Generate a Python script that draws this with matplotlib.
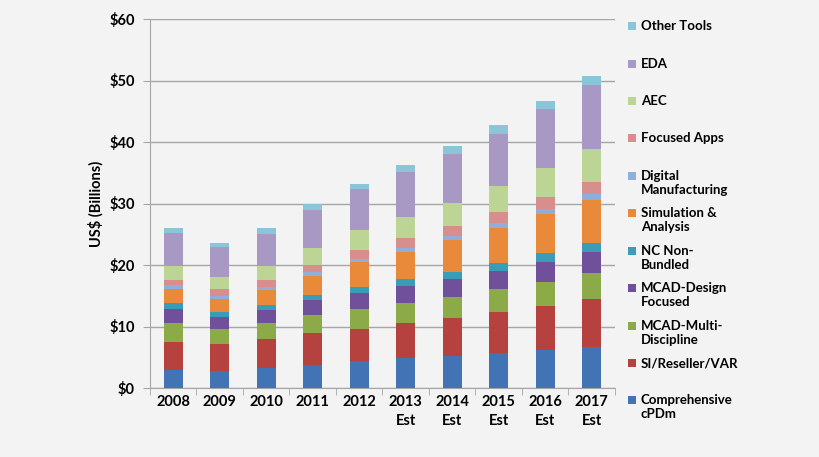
import numpy as np
import matplotlib
matplotlib.use("Agg")
import matplotlib.pyplot as plt
from matplotlib.patches import Rectangle

plt.rcParams['font.family'] = ['Lato', 'DejaVu Sans']
plt.rcParams['font.weight'] = 'bold'
plt.rcParams['axes.labelweight'] = 'bold'

years = ["2008", "2009", "2010", "2011", "2012", "2013\nEst", "2014\nEst",
         "2015\nEst", "2016\nEst", "2017\nEst"]

# segments, bottom to top (US$ billions)
cpdm = [3.0, 2.8, 3.2, 3.8, 4.4, 4.8, 5.25, 5.75, 6.2, 6.7]
si_var = [4.5, 4.3, 4.8, 5.1, 5.25, 5.7, 6.1, 6.6, 7.2, 7.7]
mcad_multi = [3.0, 2.5, 2.6, 2.9, 3.2, 3.25, 3.5, 3.75, 3.9, 4.25]
mcad_design = [2.35, 2.0, 2.05, 2.5, 2.55, 2.8, 2.8, 2.95, 3.25, 3.45]
nc_non = [0.95, 0.75, 0.8, 0.8, 0.95, 1.1, 1.25, 1.3, 1.35, 1.5]
simulation = [2.35, 2.2, 2.55, 3.1, 4.1, 4.5, 5.15, 5.7, 6.4, 7.05]
digital_mfg = [0.6, 0.45, 0.35, 0.6, 0.6, 0.55, 0.65, 0.7, 0.8, 0.85]
focused = [0.85, 1.1, 1.2, 1.25, 1.45, 1.7, 1.6, 1.8, 1.95, 2.05]
aec = [2.3, 2.0, 2.35, 2.65, 3.15, 3.4, 3.85, 4.3, 4.7, 5.25]
eda = [5.3, 4.75, 5.15, 6.2, 6.65, 7.3, 7.95, 8.5, 9.6, 10.4]
other = [0.85, 0.65, 1.0, 1.0, 0.9, 1.1, 1.2, 1.4, 1.3, 1.6]

series = [cpdm, si_var, mcad_multi, mcad_design, nc_non, simulation,
          digital_mfg, focused, aec, eda, other]
labels = ["Comprehensive\ncPDm", "SI/Reseller/VAR", "MCAD-Multi-\nDiscipline",
          "MCAD-Design\nFocused", "NC Non-\nBundled", "Simulation &\nAnalysis",
          "Digital\nManufacturing", "Focused Apps", "AEC", "EDA", "Other Tools"]
colors = ["#4273B4", "#B5423F", "#8CAA48", "#70509A", "#3A9DB8", "#E88A3A",
          "#8FAEDC", "#D98E8E", "#BCD494", "#A898C4", "#8BC6D8"]

bg = "#f3f3f3"
fig = plt.figure(figsize=(8.2, 4.57), dpi=100, facecolor=bg)
ax = fig.add_axes([150/820, 1-388/457, 465/820, 369/457])
ax.set_facecolor(bg)

x = np.arange(len(years))
bottom = np.zeros(len(years))
for vals, col in zip(series, colors):
    ax.bar(x, vals, 0.41, bottom=bottom, color=col, zorder=3)
    bottom += np.array(vals)

ax.set_xlim(-0.5, len(years) - 0.5)
ax.set_ylim(0, 60)
ax.set_yticks(range(0, 61, 10))
ax.set_yticklabels(["$%d" % v for v in range(0, 61, 10)], fontsize=10.5)
ax.yaxis.grid(True, color="#a6a6a6", linewidth=1, zorder=0)
ax.tick_params(axis='y', length=5, color="#a6a6a6", pad=6)

ax.set_xticks(x)
ax.set_xticklabels(years, fontsize=10.5, linespacing=1.5)
ax.set_xticks(np.arange(-0.5, len(years)), minor=True)
ax.tick_params(axis='x', which='major', length=0, pad=5)
ax.tick_params(axis='x', which='minor', length=5, color="#a6a6a6")

for s in ["top", "right"]:
    ax.spines[s].set_visible(False)
for s in ["left", "bottom"]:
    ax.spines[s].set_color("#a6a6a6")

ax.set_ylabel("US$ (Billions)", fontsize=10.5, labelpad=4)

# legend, top entry first
legend_y = [26, 64, 101, 138, 176, 213, 251, 288, 326, 363, 400]
for i, (lab, col) in enumerate(zip(labels[::-1], colors[::-1])):
    yy = legend_y[i]
    fig.patches.append(Rectangle((628/820, 1-(yy+4)/457), 8/820, 8/457,
                                 transform=fig.transFigure, facecolor=col,
                                 edgecolor="none"))
    fig.text(641/820, 1-(yy-6)/457, lab, fontsize=9.5, va='top', ha='left',
             linespacing=1.2)

plt.savefig("out.png", dpi=100, facecolor=bg)
